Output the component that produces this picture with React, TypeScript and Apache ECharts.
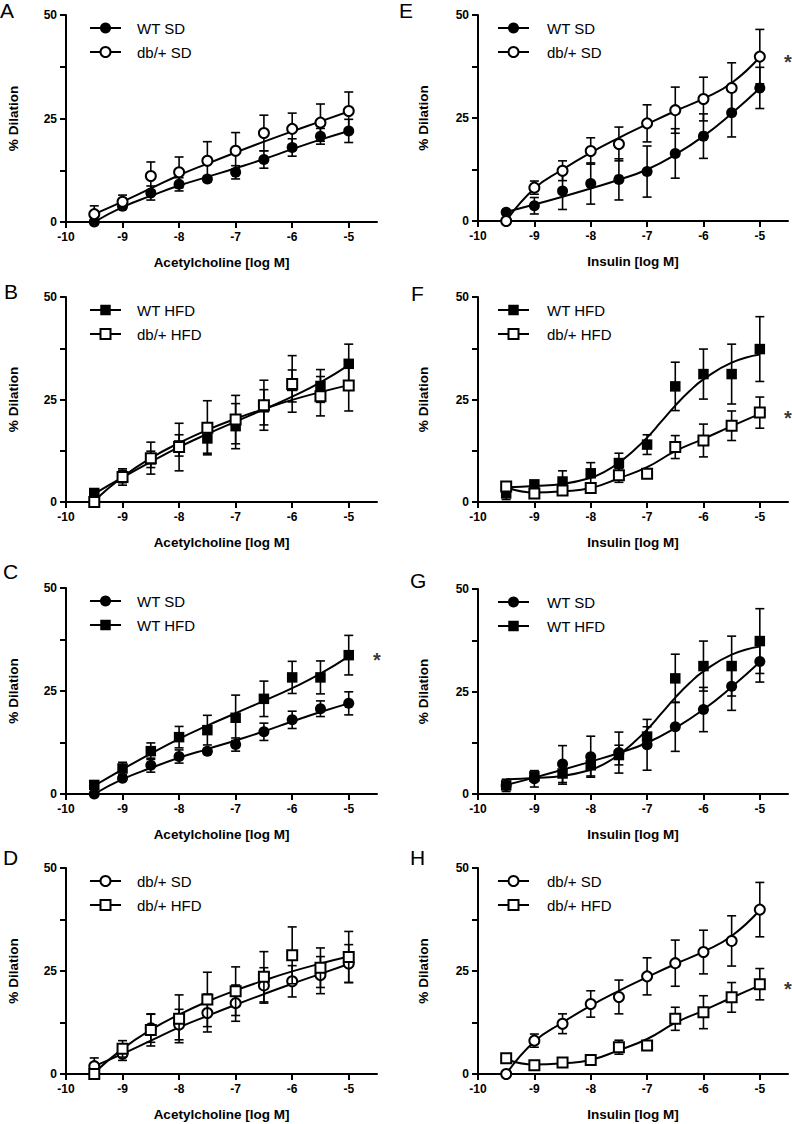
import React, { useEffect, useRef } from 'react';
import * as echarts from 'echarts';

// ---- data (log M) ----
const logDose = [-9.5, -9, -8.5, -8, -7.5, -7, -6.5, -6, -5.5, -5];
const xTicks = [-10, -9, -8, -7, -6, -5];
const yTicks = [0, 12.5, 25, 37.5, 50];
const yLabels = [0, 25, 50];

// Acetylcholine
const achWtSd = [0, 3.8, 7.0, 9.1, 10.4, 12.0, 15.1, 18.0, 20.7, 22.0];
const achWtSdErr = [0.5, 0.6, 1.7, 1.6, 0.7, 1.6, 2.1, 2.1, 1.9, 2.8];
const achDbSd = [1.9, 4.9, 11.1, 12.0, 14.8, 17.2, 21.5, 22.5, 24.0, 26.8];
const achDbSdErr = [2.0, 1.6, 3.4, 3.7, 4.6, 4.4, 4.3, 3.8, 4.5, 4.6];
const achWtHfd = [2.2, 6.2, 10.4, 13.8, 15.5, 18.5, 23.1, 28.3, 28.3, 33.7];
const achWtHfdErr = [1.0, 1.5, 2.0, 2.6, 3.6, 5.5, 4.3, 3.9, 4.0, 4.8];
const achDbHfd = [0, 6.1, 10.7, 13.4, 18.1, 20.1, 23.6, 28.8, 25.8, 28.4];
const achDbHfdErr = [1.0, 2.0, 3.9, 5.8, 6.6, 5.9, 6.1, 6.9, 4.8, 6.2];

// Acetylcholine fitted curves (read at logDose)
const achWtSdFit = [0, 3.6, 6.3, 8.8, 10.9, 13.0, 15.2, 17.6, 19.9, 22.0];
const achDbSdFit = [1.9, 4.9, 8.1, 11.3, 14.1, 16.8, 19.4, 21.9, 24.3, 26.7];
const achWtHfdFit = [2.0, 6.0, 9.8, 13.4, 16.6, 19.6, 22.6, 25.7, 29.2, 33.4];
const achDbHfdFit = [0.3, 6.1, 10.7, 14.4, 17.6, 20.3, 22.7, 24.9, 26.8, 28.5];

// Insulin
const insWtSd = [2.1, 3.7, 7.3, 9.1, 10.1, 12.0, 16.4, 20.6, 26.3, 32.3];
const insWtSdErr = [0.5, 2.0, 4.5, 5.0, 5.0, 6.2, 6.0, 5.4, 5.9, 5.0];
const insDbSd = [0, 8.1, 12.2, 17.0, 18.7, 23.7, 26.9, 29.6, 32.3, 39.9];
const insDbSdErr = [0.3, 1.6, 2.4, 3.2, 4.1, 4.5, 5.6, 5.3, 6.1, 6.6];
const insWtHfd = [2.1, 4.3, 5.0, 7.0, 9.5, 14.0, 28.2, 31.2, 31.2, 37.3];
const insWtHfdErr = [1.5, 0.8, 2.6, 2.6, 2.4, 2.4, 5.9, 6.1, 7.3, 7.9];
const insDbHfd = [3.8, 2.1, 2.8, 3.4, 6.5, 6.9, 13.4, 15.0, 18.6, 21.8];
const insDbHfdErr = [0.5, 0.5, 0.8, 0.6, 1.7, 0.6, 2.8, 4.0, 3.6, 3.8];

// Insulin fitted curves
const insFitX = [-9.5, -9, -8.5, -8, -7.75, -7.5, -7.25, -7, -6.75, -6.5, -6.25, -6, -5.5, -5];
const insWtSdFit = [2.2, 4.0, 5.9, 7.9, 10.0, 12.5, 16.1, 20.6, 26.1, 32.2];
const insDbSdFit = [0, 7.9, 12.5, 16.6, 20.2, 23.5, 26.7, 29.7, 33.5, 39.8];
const insWtHfdFit = [3.6, 3.9, 4.4, 5.9, 7.4, 9.6, 12.4, 15.7, 19.6, 23.5, 27.0, 29.9, 34.0, 36.0];
const insDbHfdFit = [3.6, 2.3, 2.6, 3.4, 5.8, 8.5, 12.4, 15.4, 18.5, 21.5];

const FONT = '"Liberation Sans", Arial, Helvetica, sans-serif';

type Group = {
  name: string;
  y: number[];
  err: number[];
  fitX: number[];
  fit: number[];
  symbol: 'circle' | 'rect';
  filled: boolean;
};

const G = {
  achWtSd: { name: 'WT SD', y: achWtSd, err: achWtSdErr, fitX: logDose, fit: achWtSdFit, symbol: 'circle', filled: true },
  achDbSd: { name: 'db/+ SD', y: achDbSd, err: achDbSdErr, fitX: logDose, fit: achDbSdFit, symbol: 'circle', filled: false },
  achWtHfd: { name: 'WT HFD', y: achWtHfd, err: achWtHfdErr, fitX: logDose, fit: achWtHfdFit, symbol: 'rect', filled: true },
  achDbHfd: { name: 'db/+ HFD', y: achDbHfd, err: achDbHfdErr, fitX: logDose, fit: achDbHfdFit, symbol: 'rect', filled: false },
  insWtSd: { name: 'WT SD', y: insWtSd, err: insWtSdErr, fitX: logDose, fit: insWtSdFit, symbol: 'circle', filled: true },
  insDbSd: { name: 'db/+ SD', y: insDbSd, err: insDbSdErr, fitX: logDose, fit: insDbSdFit, symbol: 'circle', filled: false },
  insWtHfd: { name: 'WT HFD', y: insWtHfd, err: insWtHfdErr, fitX: insFitX, fit: insWtHfdFit, symbol: 'rect', filled: true },
  insDbHfd: { name: 'db/+ HFD', y: insDbHfd, err: insDbHfdErr, fitX: logDose, fit: insDbHfdFit, symbol: 'rect', filled: false },
} as Record<string, Group>;

type Panel = {
  letter: string;
  col: number;
  top: number;
  h: number;
  groups: Group[];
  star: number; // index of group carrying the asterisk, -1 none
  lx: number;
  ly: number; // top of letter box
};

const panels: Panel[] = [
  { letter: 'A', col: 0, top: 15, h: 207, groups: [G.achWtSd, G.achDbSd], star: -1, lx: 0, ly: 0 },
  { letter: 'B', col: 0, top: 297, h: 205, groups: [G.achWtHfd, G.achDbHfd], star: -1, lx: 4, ly: 281 },
  { letter: 'C', col: 0, top: 588, h: 206, groups: [G.achWtSd, G.achWtHfd], star: 1, lx: 3, ly: 561 },
  { letter: 'D', col: 0, top: 868, h: 206, groups: [G.achDbSd, G.achDbHfd], star: -1, lx: 3, ly: 847 },
  { letter: 'E', col: 1, top: 15, h: 206, groups: [G.insWtSd, G.insDbSd], star: 1, lx: 399, ly: 0 },
  { letter: 'F', col: 1, top: 297, h: 205, groups: [G.insWtHfd, G.insDbHfd], star: 1, lx: 411, ly: 283 },
  { letter: 'G', col: 1, top: 589, h: 205, groups: [G.insWtSd, G.insWtHfd], star: -1, lx: 410, ly: 570 },
  { letter: 'H', col: 1, top: 868, h: 206, groups: [G.insDbSd, G.insDbHfd], star: 1, lx: 410, ly: 847 },
];

const colLeft = [66, 478];
const colWidth = [311, 310];
const xTitles = ['Acetylcholine [log M]', 'Insulin [log M]'];

const renderErr = (params: any, api: any) => {
  const x = api.value(0);
  const y = api.value(1);
  const e = api.value(2);
  const hi = api.coord([x, y + e]);
  const lo = api.coord([x, y - e]);
  const c = 4.5;
  const style = { stroke: '#000', lineWidth: 1.6, fill: 'none' };
  return {
    type: 'group',
    children: [
      { type: 'line', shape: { x1: hi[0], y1: hi[1], x2: lo[0], y2: lo[1] }, style },
      { type: 'line', shape: { x1: hi[0] - c, y1: hi[1], x2: hi[0] + c, y2: hi[1] }, style },
      { type: 'line', shape: { x1: lo[0] - c, y1: lo[1], x2: lo[0] + c, y2: lo[1] }, style },
    ],
  };
};

function buildOption() {
  const grid: any[] = [];
  const xAxis: any[] = [];
  const yAxis: any[] = [];
  const series: any[] = [];
  const graphic: any[] = [];

  panels.forEach((p, i) => {
    const left = colLeft[p.col];
    const width = colWidth[p.col];
    grid.push({ left, top: p.top, width, height: p.h });
    xAxis.push({
      gridIndex: i,
      type: 'value',
      min: -10,
      max: -4.5,
      name: xTitles[p.col],
      nameLocation: 'middle',
      nameGap: 33,
      nameTextStyle: { color: '#000', fontFamily: FONT, fontWeight: 'bold', fontSize: 13.5 },
      axisLine: { onZero: false, lineStyle: { color: '#000', width: 2 } },
      axisTick: { customValues: xTicks, length: 6, lineStyle: { color: '#000', width: 2 } },
      axisLabel: { customValues: xTicks, margin: 9, color: '#000', fontFamily: FONT, fontWeight: 'bold', fontSize: 12 },
      splitLine: { show: false },
    });
    yAxis.push({
      gridIndex: i,
      type: 'value',
      min: 0,
      max: 50,
      name: '% Dilation',
      nameLocation: 'middle',
      nameGap: p.col === 0 ? 46 : 48,
      nameTextStyle: { color: '#000', fontFamily: FONT, fontWeight: 'bold', fontSize: 13.5 },
      axisLine: { show: true, onZero: false, lineStyle: { color: '#000', width: 2 } },
      axisTick: { show: true, customValues: yTicks, length: 6, lineStyle: { color: '#000', width: 2 } },
      axisLabel: { customValues: yLabels, margin: 9, color: '#000', fontFamily: FONT, fontWeight: 'bold', fontSize: 12 },
      splitLine: { show: false },
    });

    // fitted curves
    p.groups.forEach((g) => {
      series.push({
        type: 'line',
        xAxisIndex: i,
        yAxisIndex: i,
        data: g.fitX.map((x, j) => [x, g.fit[j]]),
        smooth: 0.5,
        symbol: 'none',
        clip: false,
        silent: true,
        lineStyle: { color: '#000', width: 2 },
        z: 1,
      });
    });

    // error bars + markers
    p.groups.forEach((g, k) => {
      series.push({
        type: 'custom',
        xAxisIndex: i,
        yAxisIndex: i,
        data: logDose.map((x, j) => [x, g.y[j], g.err[j]]),
        renderItem: renderErr,
        clip: true,
        silent: true,
        z: 2 + 2 * k,
      });
      const isRect = g.symbol === 'rect';
      series.push({
        type: 'scatter',
        xAxisIndex: i,
        yAxisIndex: i,
        data: logDose.map((x, j) => [x, g.y[j]]),
        symbol: g.symbol,
        symbolSize: g.filled ? (isRect ? 10.5 : 11) : 10,
        clip: false,
        silent: true,
        itemStyle: g.filled
          ? { color: '#000', opacity: 1 }
          : { color: '#fff', borderColor: '#000', borderWidth: 2, opacity: 1 },
        z: 3 + 2 * k,
      });
    });

    if (p.star >= 0) {
      const g = p.groups[p.star];
      series.push({
        type: 'scatter',
        xAxisIndex: i,
        yAxisIndex: i,
        data: [[-4.5, g.y[g.y.length - 1]]],
        symbol: 'circle',
        symbolSize: 1,
        clip: false,
        silent: true,
        itemStyle: { color: 'rgba(0,0,0,0)' },
        label: {
          show: true,
          formatter: '*',
          position: 'inside',
          offset: [0, 5],
          color: '#000',
          fontFamily: FONT,
          fontWeight: 'bold',
          fontSize: 20,
        },
        z: 10,
      });
    }

    // panel letter
    graphic.push({
      type: 'text',
      x: p.lx,
      y: p.ly,
      style: { text: p.letter, fontSize: 21, fontFamily: FONT, fill: '#000', verticalAlign: 'top', align: 'left' },
    });

    // legend
    p.groups.forEach((g, k) => {
      const ly = p.top + (k === 0 ? 13 : 37);
      const x0 = left + (p.col === 0 ? 24 : 20);
      const x1 = x0 + 31;
      const mx = (x0 + x1) / 2;
      const tx = left + (p.col === 0 ? 71 : 69);
      graphic.push({
        type: 'line',
        shape: { x1: x0, y1: ly, x2: x1, y2: ly },
        style: { stroke: '#000', lineWidth: 2 },
      });
      const symStyle = g.filled
        ? { fill: '#000', stroke: '#000', lineWidth: 0 }
        : { fill: '#fff', stroke: '#000', lineWidth: 2 };
      if (g.symbol === 'circle') {
        graphic.push({ type: 'circle', shape: { cx: mx, cy: ly, r: g.filled ? 5.5 : 5 }, style: symStyle });
      } else {
        const s = g.filled ? 10.5 : 10;
        graphic.push({ type: 'rect', shape: { x: mx - s / 2, y: ly - s / 2, width: s, height: s }, style: symStyle });
      }
      graphic.push({
        type: 'text',
        x: tx,
        y: ly,
        style: { text: g.name, fontSize: 15, fontFamily: FONT, fill: '#000', verticalAlign: 'middle', align: 'left' },
      });
    });
  });

  return {
    animation: false,
    backgroundColor: '#fff',
    grid,
    xAxis,
    yAxis,
    series,
    graphic,
  };
}

export default function App() {
  const ref = useRef<HTMLDivElement>(null);
  useEffect(() => {
    const chart = echarts.init(ref.current as HTMLDivElement, null, { renderer: 'svg' });
    chart.setOption(buildOption() as any);
    return () => chart.dispose();
  }, []);
  return (
    <div
      ref={ref}
      style={{ position: 'absolute', left: 0, top: 0, width: 792, height: 1124, background: '#fff' }}
    />
  );
}
